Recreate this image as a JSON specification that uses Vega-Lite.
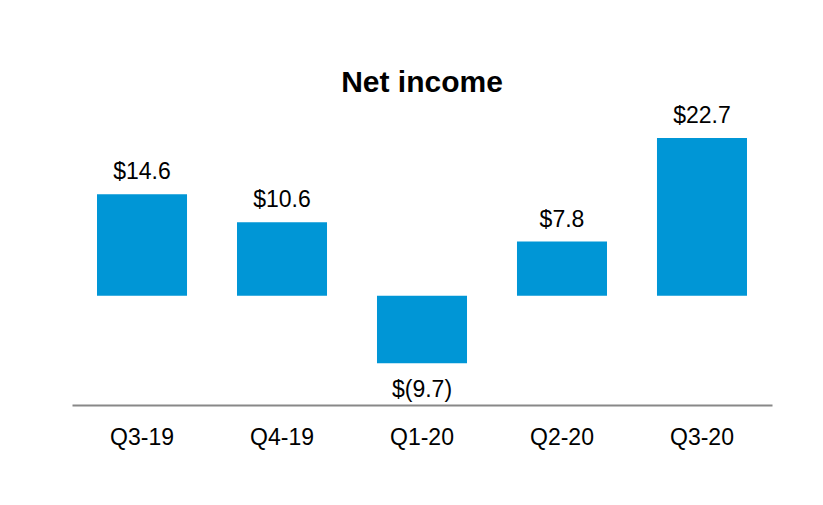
{
  "$schema": "https://vega.github.io/schema/vega-lite/v6.json",
  "width": 700,
  "height": 283,
  "autosize": {"type": "none"},
  "padding": {"left": 72, "top": 122, "right": 51, "bottom": 100},
  "background": "white",
  "title": {
    "text": "Net income",
    "font": "Liberation Sans",
    "fontSize": 30,
    "fontWeight": "bold",
    "color": "black",
    "anchor": "middle",
    "offset": 7
  },
  "config": {
    "view": {"stroke": null},
    "font": "Liberation Sans"
  },
  "data": {
    "values": [
      {"quarter": "Q3-19", "value": 14.6, "label": "$14.6"},
      {"quarter": "Q4-19", "value": 10.6, "label": "$10.6"},
      {"quarter": "Q1-20", "value": -9.7, "label": "$(9.7)"},
      {"quarter": "Q2-20", "value": 7.8, "label": "$7.8"},
      {"quarter": "Q3-20", "value": 22.7, "label": "$22.7"}
    ]
  },
  "encoding": {
    "x": {
      "field": "quarter",
      "type": "nominal",
      "sort": null,
      "scale": {"paddingInner": 0.357, "paddingOuter": 0.1786},
      "axis": {
        "title": null,
        "labelAngle": 0,
        "ticks": false,
        "domainColor": "#888888",
        "domainWidth": 2,
        "labelFontSize": 23,
        "labelColor": "black",
        "labelFont": "Liberation Sans",
        "labelPadding": 21
      }
    },
    "y": {
      "field": "value",
      "type": "quantitative",
      "scale": {"domain": [-15.7, 25], "nice": false, "zero": false},
      "axis": null
    }
  },
  "layer": [
    {
      "mark": {"type": "bar", "color": "#0096D6"}
    },
    {
      "transform": [{"filter": "datum.value >= 0"}],
      "mark": {"type": "text", "baseline": "alphabetic", "dy": -15, "fontSize": 23, "color": "black", "font": "Liberation Sans"},
      "encoding": {"text": {"field": "label"}}
    },
    {
      "transform": [{"filter": "datum.value < 0"}],
      "mark": {"type": "text", "baseline": "alphabetic", "dy": 34, "fontSize": 23, "color": "black", "font": "Liberation Sans"},
      "encoding": {"text": {"field": "label"}}
    }
  ]
}
